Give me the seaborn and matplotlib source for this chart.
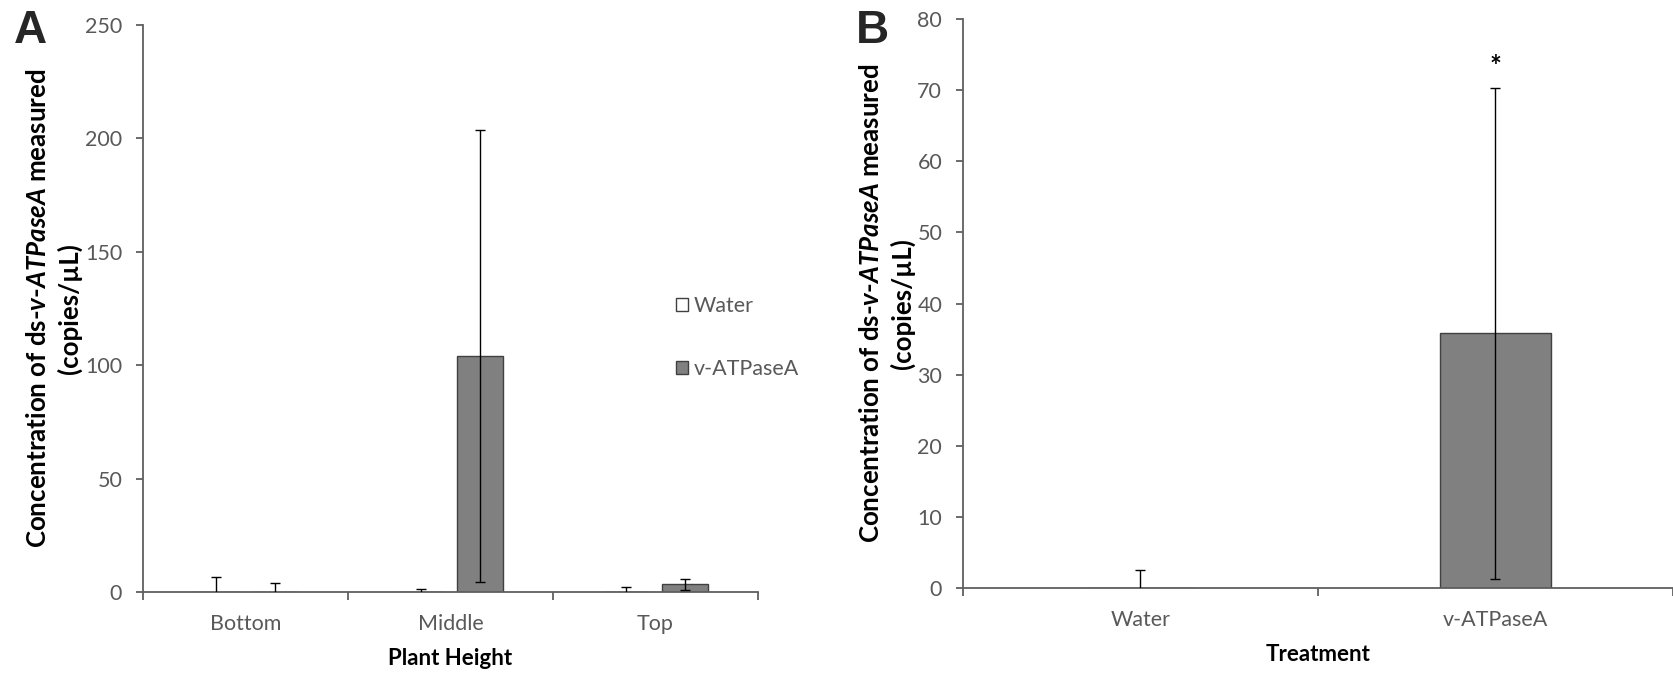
import numpy as np
import pandas as pd
import matplotlib
matplotlib.use("Agg")
import matplotlib.pyplot as plt
import seaborn as sns

# ---------------- data ----------------
heights = ["Bottom", "Middle", "Top"]
water_A = [0.0, 0.0, 0.0]
water_err_A = [6.8, 1.2, 2.0]
vatp_A = [0.0, 104.0, 3.5]
vatp_err_A = [3.8, 99.5, 2.4]

treatments_B = ["Water", "v-ATPaseA"]
means_B = [0.0, 35.8]
err_B = [2.6, 34.5]

series_names = ["Water", "v-ATPaseA"]
yticks_A = [0, 50, 100, 150, 200, 250]
yticks_B = [0, 10, 20, 30, 40, 50, 60, 70, 80]

# ---------------- style ----------------
sns.set_theme(style="white")
plt.rcParams["font.family"] = ["Lato", "DejaVu Sans"]
plt.rcParams["mathtext.fontset"] = "custom"
plt.rcParams["mathtext.it"] = "Lato:italic:bold"
plt.rcParams["mathtext.rm"] = "Lato:bold"
plt.rcParams["mathtext.bf"] = "Lato:bold"

GRAY_TXT = "#595959"
AX_COL = "#5f5f5f"
BAR_GRAY = "#808080"
EDGE = "#404040"
palette = {"Water": "white", "v-ATPaseA": BAR_GRAY}
TICK_FS = 15.5
XLAB_FS = 16
YLAB_FS = 18.6

fig = plt.figure(figsize=(16.74, 6.74), dpi=100)
axA = fig.add_axes([143 / 1674, 1 - 592 / 674, 615 / 1674, 567 / 674])
axB = fig.add_axes([963 / 1674, 1 - 588 / 674, 710 / 1674, 569 / 674])

ylab = "Concentration of ds-$\\mathit{v}$-$\\mathit{ATPaseA}$ measured\n(copies/\u00b5L)"


def style_axis(ax, cats, yticks, xlabel):
    ncat = len(cats)
    for s in ["top", "right"]:
        ax.spines[s].set_visible(False)
    for s in ["left", "bottom"]:
        ax.spines[s].set_color(AX_COL)
        ax.spines[s].set_linewidth(1.3)
    ax.set_xlim(-0.5, ncat - 0.5)
    ax.set_ylim(yticks[0], yticks[-1])
    ax.set_yticks(yticks)
    ax.set_xticks(np.arange(ncat + 1) - 0.5)
    ax.set_xticklabels([""] * (ncat + 1))
    ax.set_xticks(np.arange(ncat), labels=cats, minor=True)
    ax.tick_params(axis="x", which="major", direction="out", length=6,
                   width=1.3, color=AX_COL, bottom=True)
    ax.tick_params(axis="x", which="minor", length=0, labelsize=TICK_FS,
                   labelcolor=GRAY_TXT, pad=16)
    ax.tick_params(axis="y", which="major", direction="out", length=5,
                   width=1.3, color=AX_COL, left=True, labelsize=TICK_FS,
                   labelcolor=GRAY_TXT, pad=10)
    ax.set_xlabel(xlabel, fontsize=XLAB_FS, fontweight="bold", color="black",
                  labelpad=10)
    ax.set_ylabel(ylab, fontsize=YLAB_FS, fontweight="bold", color="black",
                  labelpad=2, linespacing=1.3)


# ---------------- Panel A ----------------
dfA = pd.DataFrame({
    "height": heights * 2,
    "treatment": [series_names[0]] * 3 + [series_names[1]] * 3,
    "value": water_A + vatp_A,
    "err": water_err_A + vatp_err_A,
})
sns.barplot(data=dfA, x="height", y="value", hue="treatment", order=heights,
            hue_order=series_names, palette=palette, errorbar=None,
            width=0.576, gap=0.23, edgecolor=EDGE, linewidth=1.0, ax=axA)

for cont, name in zip(axA.containers, series_names):
    sub = dfA[dfA["treatment"] == name]
    xs = [p.get_x() + p.get_width() / 2 for p in cont.patches]
    axA.errorbar(xs, sub["value"].to_numpy(), yerr=sub["err"].to_numpy(),
                 fmt="none", ecolor="black", elinewidth=1.0, capsize=3.5,
                 capthick=1.0, zorder=5)

style_axis(axA, heights, yticks_A, "Plant Height")

handles, labels = axA.get_legend_handles_labels()
axA.legend(handles, labels, frameon=False, loc="upper left",
           bbox_to_anchor=(0.852, 0.537), labelspacing=2.0,
           handlelength=0.56, handleheight=0.56, handletextpad=0.3,
           fontsize=TICK_FS, labelcolor=GRAY_TXT, borderaxespad=0)

# ---------------- Panel B ----------------
dfB = pd.DataFrame({"treatment": treatments_B, "value": means_B, "err": err_B})
sns.barplot(data=dfB, x="treatment", y="value", hue="treatment",
            order=treatments_B, palette=palette, errorbar=None, legend=False,
            width=0.31, edgecolor=EDGE, linewidth=1.0, ax=axB)
xsB = []
for cont in axB.containers:
    for p in cont.patches:
        xsB.append(p.get_x() + p.get_width() / 2)
xsB = sorted(xsB)
axB.errorbar(xsB, dfB["value"].to_numpy(), yerr=dfB["err"].to_numpy(),
             fmt="none", ecolor="black", elinewidth=1.0, capsize=3.5,
             capthick=1.0, zorder=5)
top_v = dfB["value"].iloc[1] + dfB["err"].iloc[1]
axB.annotate("*", xy=(xsB[1], top_v), xytext=(0, 6), textcoords="offset points",
             ha="center", va="bottom", fontsize=20, fontweight="bold",
             color="black")

style_axis(axB, treatments_B, yticks_B, "Treatment")

# panel letters
fig.text(0.008, 0.987, "A", fontsize=33, fontweight="bold",
         family=["Liberation Sans", "DejaVu Sans"], va="top", ha="left")
fig.text(0.511, 0.987, "B", fontsize=33, fontweight="bold",
         family=["Liberation Sans", "DejaVu Sans"], va="top", ha="left")

fig.savefig("out.png", dpi=100)
